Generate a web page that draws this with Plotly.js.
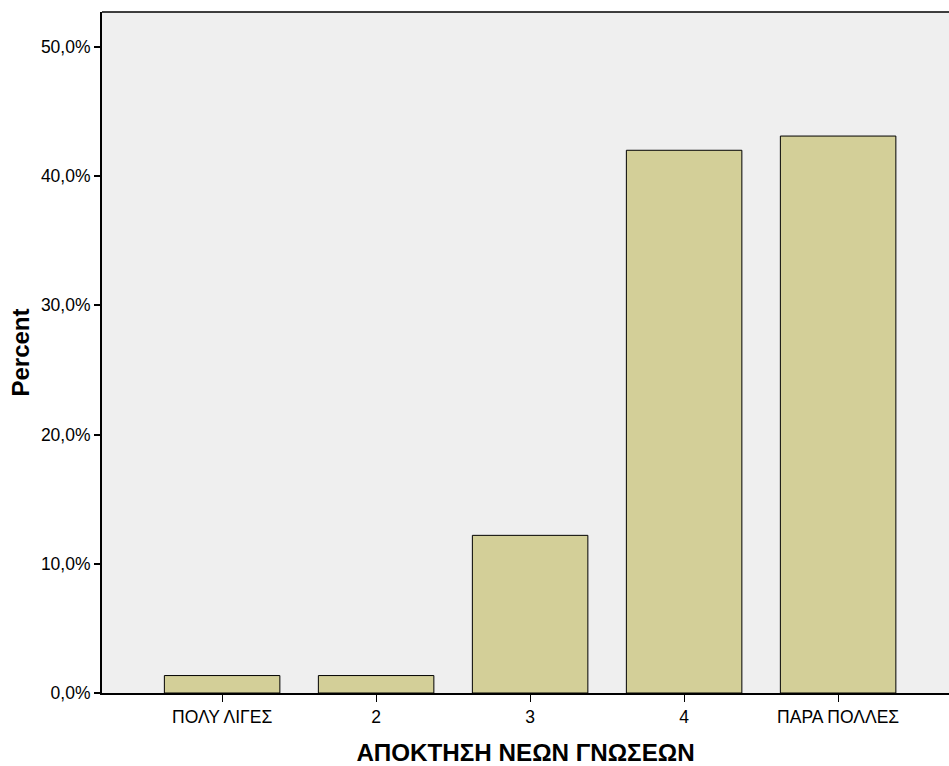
<!DOCTYPE html>
<html>
<head>
<meta charset="utf-8">
<script src="https://cdn.plot.ly/plotly-3.0.1.min.js"></script>
<style>html,body{margin:0;padding:0;background:#fff;}#chart{width:949px;height:766px;}</style>
</head>
<body>
<div id="chart"></div>
<script>
const categories = ["ΠΟΛΥ ΛΙΓΕΣ", "2", "3", "4", "ΠΑΡΑ ΠΟΛΛΕΣ"];
const percents = [1.35, 1.35, 12.2, 42.0, 43.1];
const yTickVals = [0, 10, 20, 30, 40, 50];
const yTickText = ["0,0%", "10,0%", "20,0%", "30,0%", "40,0%", "50,0%"];

const trace = {
  type: 'bar',
  x: categories,
  y: percents,
  marker: {color: '#d3cf98', line: {color: '#000', width: 1}},
  hoverinfo: 'none'
};
const layout = {
  width: 949, height: 766,
  margin: {l: 102, r: 0, t: 12, b: 73},
  paper_bgcolor: '#ffffff',
  plot_bgcolor: '#efefef',
  bargap: 0.25,
  showlegend: false,
  font: {family: 'Liberation Sans, Arial, sans-serif', color: '#000', size: 17.5},
  xaxis: {
    type: 'category',
    range: [-0.78, 4.72],
    showline: true, linecolor: '#000', linewidth: 2,
    ticks: 'outside', ticklen: 7, tickcolor: '#000', tickwidth: 1,
    showgrid: false, zeroline: false,
    tickfont: {size: 17.5},
    title: {text: 'ΑΠΟΚΤΗΣΗ ΝΕΩΝ ΓΝΩΣΕΩΝ', font: {size: 24.2, family: 'Liberation Sans, Arial, sans-serif', weight: 'bold'}, standoff: 20}
  },
  yaxis: {
    range: [0, 52.7],
    tickvals: yTickVals, ticktext: yTickText,
    showline: true, linecolor: '#000', linewidth: 2,
    ticks: 'outside', ticklen: 6, tickcolor: '#000', tickwidth: 2,
    showgrid: false, zeroline: false,
    tickfont: {size: 17.5},
    title: {text: 'Percent', font: {size: 24, family: 'Liberation Sans, Arial, sans-serif', weight: 'bold'}, standoff: 4}
  },
  shapes: [{
    type: 'line', xref: 'paper', yref: 'paper', x0: 0, x1: 1, y0: 1, y1: 1,
    line: {color: '#000', width: 1.5}, layer: 'above'
  }]
};
Plotly.newPlot('chart', [trace], layout, {displayModeBar: false, staticPlot: true});
</script>
</body>
</html>
